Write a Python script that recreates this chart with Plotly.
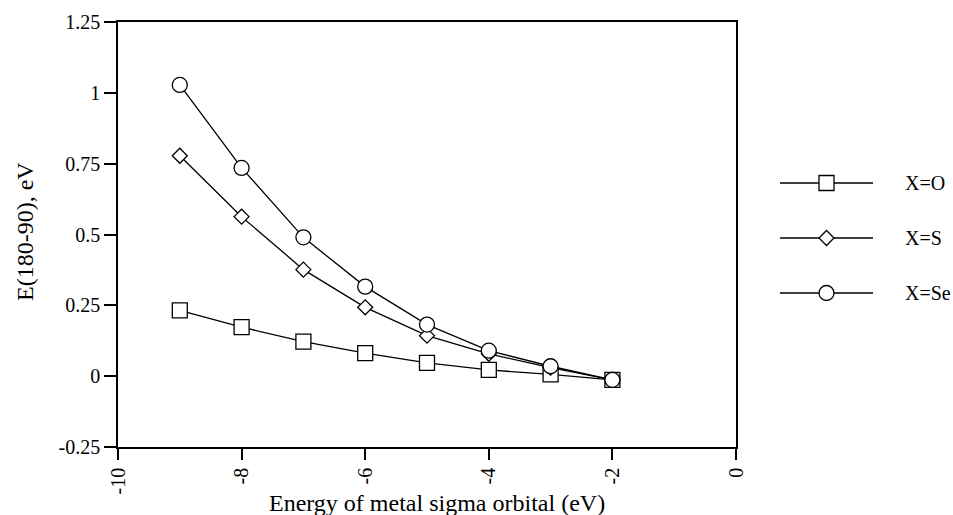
import plotly.graph_objects as go

# ---- data ----
x_energy = [-9, -8, -7, -6, -5, -4, -3, -2]
y_O = [0.232, 0.173, 0.122, 0.081, 0.047, 0.022, 0.006, -0.013]
y_S = [0.778, 0.563, 0.376, 0.243, 0.143, 0.079, 0.030, -0.013]
y_Se = [1.028, 0.735, 0.490, 0.316, 0.182, 0.090, 0.035, -0.013]

series_names = ["X=O", "X=S", "X=Se"]
x_tickvals = [-10, -8, -6, -4, -2, 0]
x_ticktext = ["-10", "-8", "-6", "-4", "-2", "0"]
y_tickvals = [-0.25, 0, 0.25, 0.5, 0.75, 1, 1.25]
y_ticktext = ["-0.25", "0", "0.25", "0.5", "0.75", "1", "1.25"]

FONT = "Liberation Serif, Times New Roman, serif"
W, H = 953, 515
ML, MR, MT, MB = 118, 0, 22, 68
PW = W - ML - MR
PH = H - MT - MB
plot_right = 736

def px2fx(px):
    return (px - ML) / PW

def py2fy(py):
    return (H - MB - py) / PH

symbols = ["square", "diamond", "circle"]
sizes = [15, 11.5, 15]
ys = [y_O, y_S, y_Se]

fig = go.Figure()
for name, yv, sym, sz in zip(series_names, ys, symbols, sizes):
    fig.add_trace(go.Scatter(
        x=x_energy, y=yv, mode="lines+markers", name=name,
        line=dict(color="black", width=1.3),
        marker=dict(symbol=sym, size=sz, color="white",
                    line=dict(color="black", width=1.3)),
        showlegend=False, cliponaxis=False,
    ))

# ---- custom legend on a hidden axis ----
legend_rows = [2.5, 1.5, 0.5]
for name, row, sym, sz in zip(series_names, legend_rows, symbols, sizes):
    fig.add_trace(go.Scatter(
        x=[0, 1], y=[row, row], mode="lines", xaxis="x2", yaxis="y2",
        line=dict(color="black", width=1.3), showlegend=False, hoverinfo="skip",
    ))
    fig.add_trace(go.Scatter(
        x=[0.5], y=[row], mode="markers", xaxis="x2", yaxis="y2",
        marker=dict(symbol=sym, size=sz, color="white",
                    line=dict(color="black", width=1.3)),
        showlegend=False, hoverinfo="skip", cliponaxis=False,
    ))
    fig.add_annotation(
        text=name, xref="paper", yref="y2", x=px2fx(903), y=row,
        xanchor="left", yanchor="middle", showarrow=False,
        font=dict(family=FONT, size=20, color="black"),
    )

axis_common = dict(
    showgrid=False, zeroline=False, showline=True, mirror=True,
    linecolor="black", linewidth=1.5, ticks="outside",
    tickcolor="black", tickwidth=1.5, automargin=False,
    tickfont=dict(family=FONT, size=20, color="black"),
)

fig.update_layout(
    template="none",
    width=W, height=H,
    margin=dict(l=ML, r=MR, t=MT, b=MB, pad=0, autoexpand=False),
    paper_bgcolor="white", plot_bgcolor="white",
    showlegend=False,
    xaxis=dict(range=[-10, 0], domain=[0, px2fx(plot_right)],
               tickvals=x_tickvals, ticktext=x_ticktext, tickangle=-90,
               ticklen=11, **axis_common),
    yaxis=dict(range=[-0.25, 1.25], tickvals=y_tickvals, ticktext=y_ticktext,
               ticklen=12, ticksuffix="\u2009\u2009", **axis_common),
    xaxis2=dict(range=[0, 1], domain=[px2fx(780), px2fx(873)], visible=False,
                anchor="y2", fixedrange=True),
    yaxis2=dict(range=[0, 3], domain=[py2fy(320.5), py2fy(155.5)], visible=False,
                anchor="x2", fixedrange=True),
)

fig.add_annotation(
    text="Energy of metal sigma orbital (eV)", xref="paper", yref="paper",
    x=px2fx(437), y=py2fy(503), xanchor="center", yanchor="middle",
    showarrow=False, font=dict(family=FONT, size=24, color="black"),
)
fig.add_annotation(
    text="E(180-90), eV", xref="paper", yref="paper",
    x=px2fx(25), y=py2fy(232), xanchor="center", yanchor="middle",
    textangle=-90, showarrow=False,
    font=dict(family=FONT, size=24, color="black"),
)

fig.write_html(
    "out.html",
    config={"displayModeBar": False},
    post_script="document.body.style.margin='0';document.body.style.overflow='hidden';",
)
